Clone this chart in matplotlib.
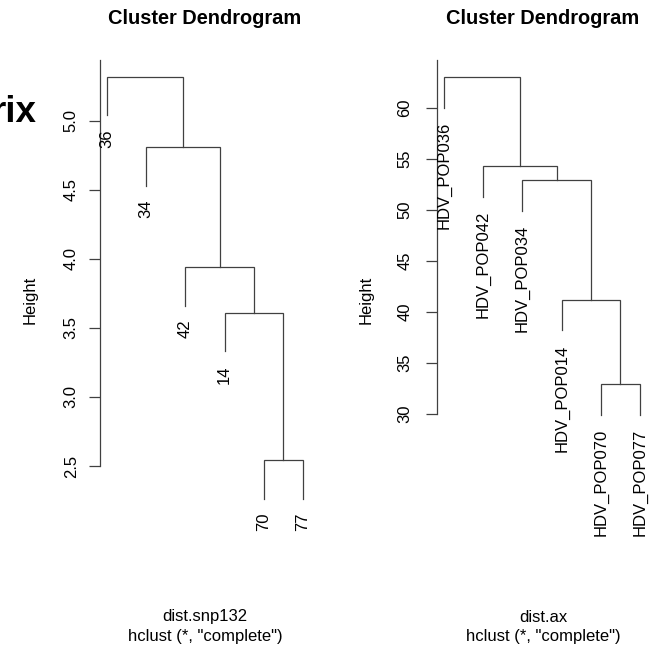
import matplotlib
matplotlib.use("Agg")
import matplotlib.pyplot as plt

plt.rcParams['font.family'] = ['Liberation Sans', 'DejaVu Sans']

W, H = 650, 648

# left panel: dist.snp132
left_labels = ["36", "34", "42", "14", "70", "77"]
# R hclust style merges: negative = leaf (position in plot order), positive = earlier merge
left_merge = [(-5, -6), (-4, 1), (-3, 2), (-2, 3), (-1, 4)]
left_heights = [2.54, 3.61, 3.94, 4.81, 5.32]
left_ticks = [2.5, 3.0, 3.5, 4.0, 4.5, 5.0]

# right panel: dist.ax
right_labels = ["HDV_POP036", "HDV_POP042", "HDV_POP034",
                "HDV_POP014", "HDV_POP070", "HDV_POP077"]
right_merge = [(-5, -6), (-4, 1), (-3, 2), (-2, 3), (-1, 4)]
right_heights = [32.9, 41.2, 52.9, 54.3, 63.0]
right_ticks = [30, 35, 40, 45, 50, 55, 60]

LINE = '#404040'


def add_ax(fig, left, right, top, bottom):
    # pixel box -> figure fraction
    return fig.add_axes([left / W, 1 - bottom / H, (right - left) / W, (bottom - top) / H])


def dendro(ax, labels, merge, heights, ticks, ylim, pad):
    n = len(labels)
    hang = 0.1 * (max(heights) - min(heights))
    node_x = {}
    node_y = {}
    for k, (a, b) in enumerate(merge):
        h = heights[k]
        xs, ys = [], []
        for c in (a, b):
            if c < 0:
                xs.append(-c)
                ys.append(h - hang)
                ax.annotate(labels[-c - 1], (-c, h - hang), xytext=(0, -10),
                            textcoords='offset points', rotation=90,
                            ha='center', va='top', fontsize=12,
                            annotation_clip=False)
            else:
                xs.append(node_x[c])
                ys.append(node_y[c])
        ax.plot([xs[0], xs[0], xs[1], xs[1]], [ys[0], h, h, ys[1]],
                color=LINE, lw=0.9, solid_joinstyle='miter', clip_on=False)
        node_x[k + 1] = (xs[0] + xs[1]) / 2
        node_y[k + 1] = h

    ax.set_xlim(0.82, n + 0.18)
    ax.set_ylim(*ylim)
    for s in ['top', 'right', 'bottom']:
        ax.spines[s].set_visible(False)
    ax.spines['left'].set_bounds(ticks[0], ylim[1])
    ax.spines['left'].set_color(LINE)
    ax.spines['left'].set_linewidth(0.9)
    ax.set_xticks([])
    ax.set_yticks(ticks)
    ax.set_yticklabels([('%.1f' % t) if isinstance(t, float) else str(t) for t in ticks])
    ax.tick_params(axis='y', labelrotation=90, length=7.8, width=0.9,
                   color=LINE, labelsize=12, pad=pad)
    for t in ax.get_yticklabels():
        t.set_va('center')
    ax.patch.set_visible(False)


fig = plt.figure(figsize=(W / 100, H / 100), dpi=100)

ax1 = add_ax(fig, 100, 310, 60, 506)
dendro(ax1, left_labels, left_merge, left_heights, left_ticks, (2.21, 5.442), 7.5)

ax2 = add_ax(fig, 437, 647, 60, 445)
dendro(ax2, right_labels, right_merge, right_heights, right_ticks, (26.96, 64.71), 10)

for cx, hx, sub in [(205, 30, "dist.snp132"), (543, 366, "dist.ax")]:
    fig.text(cx / W, 1 - 18 / H, "Cluster Dendrogram", ha='center', va='center',
             fontsize=14.4, fontweight='bold')
    fig.text(hx / W, 1 - 300 / H, "Height", rotation=90, ha='center', va='center',
             fontsize=12)
    fig.text(cx / W, 1 - 617 / H, sub, ha='center', va='center', fontsize=12)
    fig.text(cx / W, 1 - 637 / H, 'hclust (*, "complete")', ha='center', va='center',
             fontsize=12)

fig.text(-8 / W, 1 - 122 / H, "rix", ha='left', va='baseline',
         fontsize=26.5, fontweight='bold')

fig.savefig("out.png", dpi=100)
